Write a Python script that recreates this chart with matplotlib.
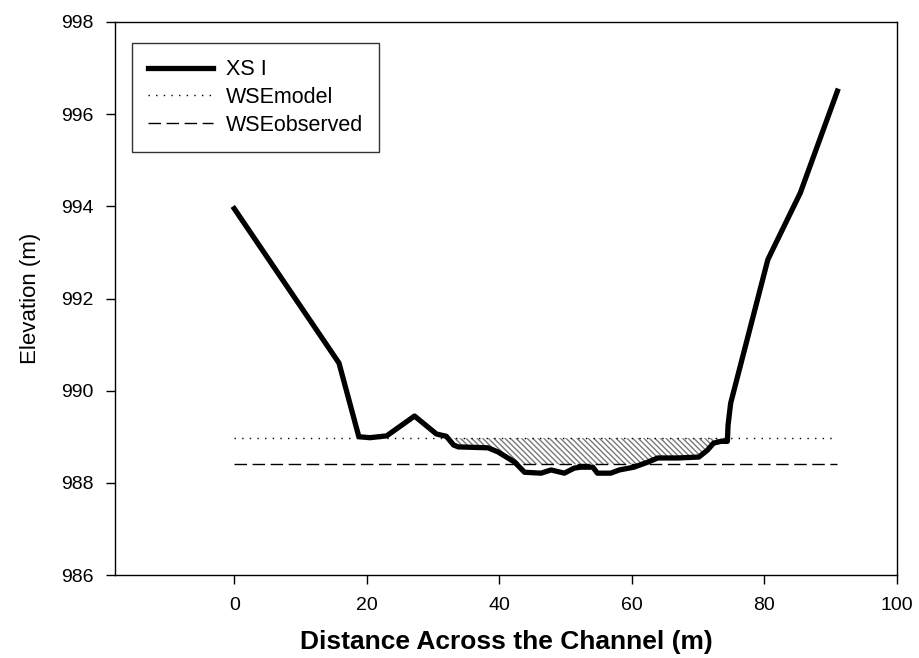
import numpy as np
import matplotlib
matplotlib.use("Agg")
import matplotlib.pyplot as plt

plt.rcParams["font.family"] = ["Liberation Sans", "DejaVu Sans"]
plt.rcParams["hatch.color"] = "#7a7a7a"
plt.rcParams["hatch.linewidth"] = 1.0

# surveyed bed profile of cross-section I
station = [0.0, 15.8, 18.8, 20.5, 23.0, 27.2, 30.5, 32.0, 33.1, 33.8, 38.3,
           39.8, 42.3, 43.8, 46.3, 47.8, 49.8, 51.3, 52.3, 54.1, 54.8, 56.8,
           58.1, 60.3, 62.4, 63.9, 66.9, 70.1, 71.4, 72.3, 73.4, 74.4, 74.5,
           74.9, 80.5, 81.2, 85.4, 91.0]
bed_elev = [993.95, 990.6, 989.0, 988.98, 989.02, 989.45, 989.06, 989.01,
            988.82, 988.78, 988.76, 988.67, 988.45, 988.23, 988.21, 988.28,
            988.21, 988.32, 988.34, 988.34, 988.21, 988.21, 988.28, 988.34,
            988.45, 988.54, 988.54, 988.56, 988.71, 988.86, 988.9, 988.9,
            989.25, 989.73, 992.84, 993.05, 994.29, 996.5]

wse_x = [0.0, 91.0]
wse_model = 988.97
wse_observed = 988.4

fig = plt.figure(figsize=(9.19, 6.58), dpi=100)
ax = fig.add_axes([0.1251, 0.1261, 0.851, 0.8405])

x = np.array(station)
z = np.array(bed_elev)
# hatched wedge between modelled and observed water surface, above the bed
lower = np.maximum(z, wse_observed)
ax.fill_between(x, lower, wse_model, where=(z < wse_model) & (x > 32),
                interpolate=True, facecolor="white", edgecolor="#7a7a7a",
                hatch="\\" * 6, linewidth=0, zorder=1)

ax.plot(x, z, color="black", lw=3.8, solid_joinstyle="round", label="XS I",
        zorder=3)
ax.plot(wse_x, [wse_model] * 2, color="black", lw=1, ls=(0, (1, 4.5)),
        label="WSEmodel", zorder=2)
ax.plot(wse_x, [wse_observed] * 2, color="black", lw=1, ls=(0, (9, 4)),
        label="WSEobserved", zorder=2)

ax.set_xlim(-18, 100)
ax.set_ylim(986, 998)
ax.set_xticks(range(0, 101, 20))
ax.set_yticks(range(986, 999, 2))
ax.tick_params(direction="out", length=6.5, width=1, labelsize=14, pad=9,
               colors="black")
for s in ax.spines.values():
    s.set_linewidth(1)

ax.set_xlabel("Distance Across the Channel (m)", fontsize=19,
              fontweight="bold", labelpad=12)
ax.set_ylabel("Elevation (m)", fontsize=16, labelpad=14)

leg = ax.legend(loc="upper left", bbox_to_anchor=(0.0217, 0.962),
                fontsize=15.5, frameon=True, fancybox=False,
                edgecolor="black", handlelength=3.0, handletextpad=0.6,
                borderpad=0.75, labelspacing=0.32, borderaxespad=0)
leg.get_frame().set_linewidth(1)

fig.savefig("out.png", dpi=100)
